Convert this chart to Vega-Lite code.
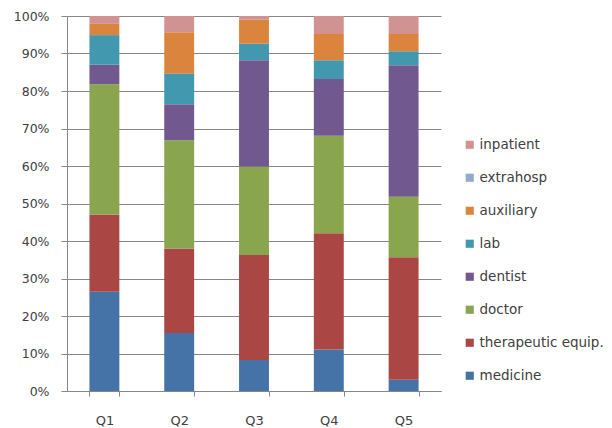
{
  "$schema": "https://vega.github.io/schema/vega-lite/v6.json",
  "autosize": {"type": "none"},
  "padding": {"left": 67, "top": 16, "right": 171, "bottom": 37},
  "width": 374,
  "height": 375,
  "background": "white",
  "config": {
    "view": {"stroke": null},
    "font": "DejaVu Sans"
  },
  "data": {
    "values": [
      {"q": "Q1", "cat": "medicine", "o": 1, "v": 26.5},
      {"q": "Q1", "cat": "therapeutic equip.", "o": 2, "v": 20.6},
      {"q": "Q1", "cat": "doctor", "o": 3, "v": 34.7},
      {"q": "Q1", "cat": "dentist", "o": 4, "v": 5.2},
      {"q": "Q1", "cat": "lab", "o": 5, "v": 7.9},
      {"q": "Q1", "cat": "auxiliary", "o": 6, "v": 3.0},
      {"q": "Q1", "cat": "extrahosp", "o": 7, "v": 0},
      {"q": "Q1", "cat": "inpatient", "o": 8, "v": 2.1},
      {"q": "Q2", "cat": "medicine", "o": 1, "v": 15.5},
      {"q": "Q2", "cat": "therapeutic equip.", "o": 2, "v": 22.5},
      {"q": "Q2", "cat": "doctor", "o": 3, "v": 28.9},
      {"q": "Q2", "cat": "dentist", "o": 4, "v": 9.6},
      {"q": "Q2", "cat": "lab", "o": 5, "v": 8.2},
      {"q": "Q2", "cat": "auxiliary", "o": 6, "v": 11.0},
      {"q": "Q2", "cat": "extrahosp", "o": 7, "v": 0},
      {"q": "Q2", "cat": "inpatient", "o": 8, "v": 4.3},
      {"q": "Q3", "cat": "medicine", "o": 1, "v": 8.3},
      {"q": "Q3", "cat": "therapeutic equip.", "o": 2, "v": 28.0},
      {"q": "Q3", "cat": "doctor", "o": 3, "v": 23.6},
      {"q": "Q3", "cat": "dentist", "o": 4, "v": 28.3},
      {"q": "Q3", "cat": "lab", "o": 5, "v": 4.4},
      {"q": "Q3", "cat": "auxiliary", "o": 6, "v": 6.4},
      {"q": "Q3", "cat": "extrahosp", "o": 7, "v": 0},
      {"q": "Q3", "cat": "inpatient", "o": 8, "v": 1.0},
      {"q": "Q4", "cat": "medicine", "o": 1, "v": 11.1},
      {"q": "Q4", "cat": "therapeutic equip.", "o": 2, "v": 31.0},
      {"q": "Q4", "cat": "doctor", "o": 3, "v": 26.0},
      {"q": "Q4", "cat": "dentist", "o": 4, "v": 15.1},
      {"q": "Q4", "cat": "lab", "o": 5, "v": 5.0},
      {"q": "Q4", "cat": "auxiliary", "o": 6, "v": 7.0},
      {"q": "Q4", "cat": "extrahosp", "o": 7, "v": 0},
      {"q": "Q4", "cat": "inpatient", "o": 8, "v": 4.8},
      {"q": "Q5", "cat": "medicine", "o": 1, "v": 3.0},
      {"q": "Q5", "cat": "therapeutic equip.", "o": 2, "v": 32.7},
      {"q": "Q5", "cat": "doctor", "o": 3, "v": 16.1},
      {"q": "Q5", "cat": "dentist", "o": 4, "v": 35.1},
      {"q": "Q5", "cat": "lab", "o": 5, "v": 3.7},
      {"q": "Q5", "cat": "auxiliary", "o": 6, "v": 4.6},
      {"q": "Q5", "cat": "extrahosp", "o": 7, "v": 0},
      {"q": "Q5", "cat": "inpatient", "o": 8, "v": 4.8}
    ]
  },
  "mark": {"type": "bar"},
  "encoding": {
    "x": {
      "field": "q",
      "type": "nominal",
      "scale": {"paddingInner": 0.6, "paddingOuter": 0.3},
      "axis": {
        "title": null,
        "labelAngle": 0,
        "labelFont": "DejaVu Sans",
        "labelFontSize": 13,
        "labelColor": "#404040",
        "labelPadding": 18,
        "tickBand": "extent",
        "tickSize": 5,
        "tickColor": "#868686",
        "domainColor": "#868686",
        "grid": false
      }
    },
    "y": {
      "aggregate": "sum",
      "field": "v",
      "type": "quantitative",
      "stack": "normalize",
      "scale": {"domain": [0, 1], "nice": false},
      "axis": {
        "title": null,
        "values": [0, 0.1, 0.2, 0.3, 0.4, 0.5, 0.6, 0.7, 0.8, 0.9, 1],
        "format": ".0%",
        "labelFont": "DejaVu Sans",
        "labelFontSize": 12.5,
        "labelColor": "#404040",
        "labelPadding": 12,
        "tickSize": 6,
        "tickColor": "#868686",
        "domainColor": "#868686",
        "gridColor": "#868686",
        "gridOpacity": 1,
        "grid": true
      }
    },
    "color": {
      "field": "cat",
      "type": "nominal",
      "scale": {
        "domain": ["inpatient", "extrahosp", "auxiliary", "lab", "dentist", "doctor", "therapeutic equip.", "medicine"],
        "range": ["#D19392", "#93A9CF", "#DB843D", "#4198AF", "#71588F", "#89A54E", "#AA4643", "#4572A7"]
      },
      "legend": {
        "title": null,
        "orient": "none",
        "legendX": 396,
        "legendY": 122,
        "symbolType": "square",
        "symbolSize": 66,
        "symbolStrokeWidth": 0,
        "labelFont": "DejaVu Sans",
        "labelFontSize": 13.5,
        "labelColor": "#404040",
        "labelOffset": 3,
        "rowPadding": 18,
        "labelLimit": 200
      }
    },
    "order": {"field": "o", "type": "quantitative", "sort": "ascending"}
  }
}
